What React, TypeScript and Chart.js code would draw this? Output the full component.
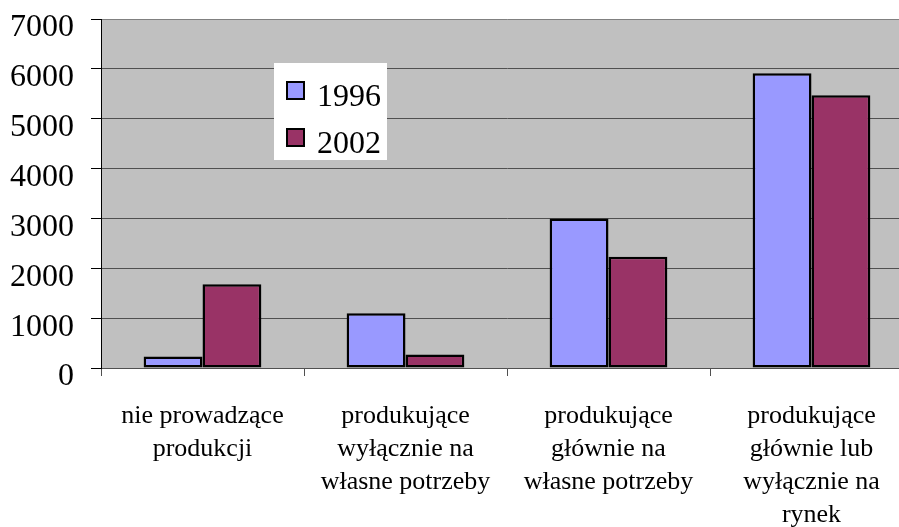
import React, { useEffect, useRef } from "react";
import { Chart, registerables } from "chart.js";

Chart.register(...registerables);

const categories: string[][] = [
  ["nie prowadzące", "produkcji"],
  ["produkujące", "wyłącznie na", "własne potrzeby"],
  ["produkujące", "głównie na", "własne potrzeby"],
  ["produkujące", "głównie lub", "wyłącznie na", "rynek"],
];
const seriesLabels = ["1996", "2002"];
const values1996 = [230, 1100, 3000, 5910];
const values2002 = [1680, 270, 2230, 5470];
const yMin = 0;
const yMax = 7000;
const yStep = 1000;

const FONT = '"Liberation Serif", "Times New Roman", serif';

const plotBackground = {
  id: "plotBackground",
  beforeDraw(chart: any) {
    const { ctx, chartArea: a } = chart;
    ctx.save();
    ctx.fillStyle = "#c0c0c0";
    ctx.fillRect(a.left, a.top, a.right - a.left, a.bottom - a.top);
    ctx.restore();
  },
};

const insideLegend = {
  id: "insideLegend",
  afterDraw(chart: any) {
    const { ctx, chartArea: a } = chart;
    const x = a.left + 173;
    const y = a.top + 44;
    const w = 113;
    const h = 97;
    ctx.save();
    ctx.fillStyle = "#ffffff";
    ctx.fillRect(x, y, w, h);
    chart.data.datasets.forEach((ds: any, i: number) => {
      const sy = y + 18 + i * 47;
      ctx.fillStyle = ds.backgroundColor;
      ctx.fillRect(x + 12, sy, 19, 19);
      ctx.lineWidth = 2;
      ctx.strokeStyle = "#000000";
      ctx.strokeRect(x + 13, sy + 1, 17, 17);
      ctx.fillStyle = "#000000";
      ctx.font = `32px ${FONT}`;
      ctx.textBaseline = "alphabetic";
      ctx.textAlign = "left";
      ctx.fillText(ds.label, x + 43, sy + 25);
    });
    ctx.restore();
  },
};

export default function App() {
  const canvasRef = useRef<HTMLCanvasElement | null>(null);

  useEffect(() => {
    if (!canvasRef.current) return;
    const chart = new Chart(canvasRef.current, {
      type: "bar",
      data: {
        labels: categories,
        datasets: [
          {
            label: seriesLabels[0],
            data: values1996,
            backgroundColor: "#9999ff",
            borderColor: "#000000",
            borderWidth: 2.5,
            borderSkipped: false,
          },
          {
            label: seriesLabels[1],
            data: values2002,
            backgroundColor: "#993366",
            borderColor: "#000000",
            borderWidth: 2.5,
            borderSkipped: false,
          },
        ],
      },
      options: {
        responsive: false,
        animation: false,
        devicePixelRatio: 1,
        layout: { padding: { top: 19, right: 7, left: 0, bottom: 0 } },
        plugins: {
          legend: { display: false },
          tooltip: { enabled: false },
        },
        datasets: {
          bar: { categoryPercentage: 0.58, barPercentage: 1.0 },
        },
        scales: {
          x: {
            offset: true,
            grid: {
              offset: true,
              drawOnChartArea: false,
              drawTicks: true,
              tickLength: 8,
              tickColor: "#505050",
            },
            border: { display: true, color: "#505050", width: 1 },
            ticks: {
              color: "#000000",
              font: { family: FONT, size: 26, lineHeight: "33px" },
              padding: 24,
              maxRotation: 0,
              minRotation: 0,
              autoSkip: false,
            },
            afterFit(scale: any) {
              scale.height = 159;
              scale.paddingLeft = 0;
              scale.paddingRight = 0;
            },
          },
          y: {
            min: yMin,
            max: yMax,
            ticks: {
              stepSize: yStep,
              color: "#000000",
              font: { family: FONT, size: 32 },
              padding: 17,
              labelOffset: 9,
              callback: (v: any) => String(v),
            },
            grid: {
              color: (c: any) => (c.tick && c.tick.value === yMax ? "#808080" : "#505050"),
              tickColor: "#000000",
              tickLength: 10,
              lineWidth: 1,
            },
            border: { display: true, color: "#000000", width: 1 },
            afterFit(scale: any) {
              scale.width = 101;
              scale.paddingTop = 0;
              scale.paddingBottom = 0;
            },
          },
        },
      },
      plugins: [plotBackground, insideLegend],
    });
    return () => chart.destroy();
  }, []);

  return (
    <div
      style={{
        position: "absolute",
        left: 0,
        top: 0,
        width: 899,
        height: 527,
        overflow: "hidden",
        background: "#ffffff",
      }}
    >
      <canvas ref={canvasRef} width={920} height={527} style={{ width: 920, height: 527, display: "block" }} />
    </div>
  );
}
